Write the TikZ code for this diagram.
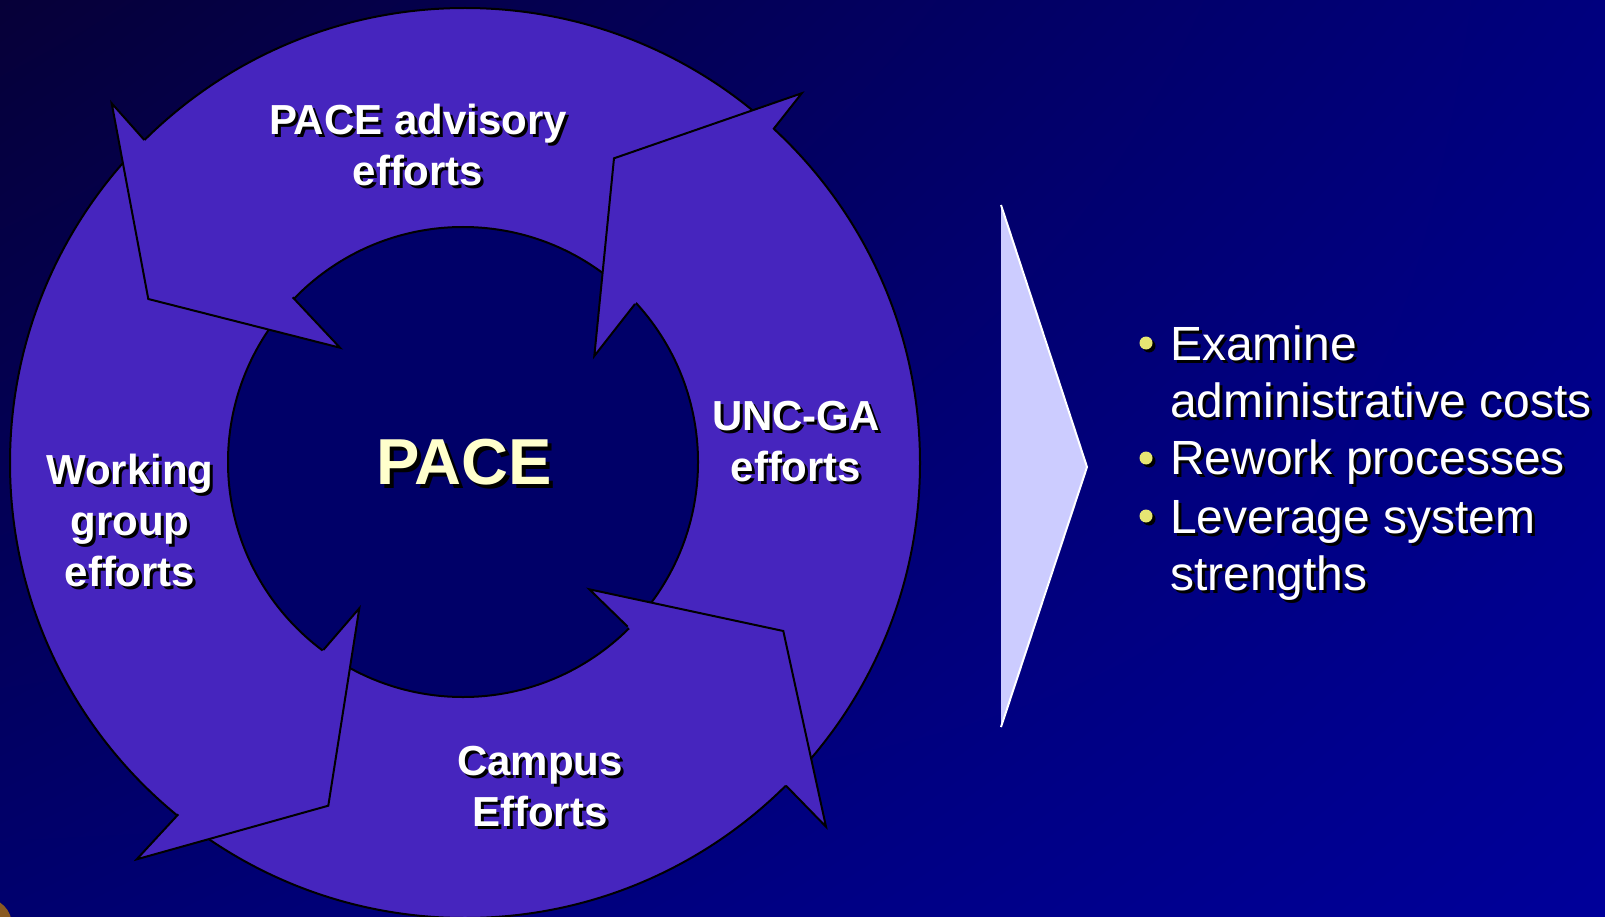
\documentclass[tikz,border=0pt]{standalone}
\usepackage{fontspec}
\setmainfont{Liberation Sans}
\usetikzlibrary{shadows,shadings}
\definecolor{ringc}{HTML}{4625BE}
\definecolor{coreC}{HTML}{000068}
\definecolor{paceY}{HTML}{FFFFCC}
\definecolor{chev}{HTML}{CCCCFF}
\definecolor{bulY}{HTML}{E6E673}
\definecolor{bgUL}{HTML}{060038}
\definecolor{bgUR}{HTML}{00007E}
\definecolor{bgLL}{HTML}{00006E}
\definecolor{bgLR}{HTML}{00009A}
\definecolor{blob}{HTML}{8A5A22}
\newcommand\shtext[2][3pt]{\leavevmode\rlap{\kern#1\raisebox{-#1}{\color{black}#2}}#2}
\tikzset{
  lbl/.style={font=\bfseries\fontsize{42}{51}\selectfont, text=white, align=center, inner sep=0pt, anchor=base},
  headline/.style={draw=black, line width=2pt, line join=miter},
  ringline/.style={draw=black, line width=2pt},
  bul/.style={circle, fill=bulY, minimum size=13pt, inner sep=0pt,
    drop shadow={shadow xshift=3pt, shadow yshift=-3pt, opacity=1, fill=black}},
  bultext/.style={font=\fontsize{48}{57}\selectfont, text=white, align=left, inner sep=0pt, anchor=base west},
}
\begin{document}
\begin{tikzpicture}[x=1pt, y=-1pt]
\useasboundingbox (0,0) rectangle (1605,917);
% background
\shade[upper left=bgUL, upper right=bgUR, lower left=bgLL, lower right=bgLR] (0,0) rectangle (1605,917);
\begin{scope}
  \clip (0,0) rectangle (1605,917);
  \fill[blob] (-15,925) circle[radius=27pt];
  % ring
  \fill[ringc, ringline] (465,463) circle[radius=455pt];
\end{scope}
\fill[coreC, ringline] (463,462) circle[radius=235pt];
% arrow heads
% top-right (UNC-GA arrow head)
\fill[ringc] (773.3,129.3) -- (801.7,93.3) -- (614,158.3) -- (594.3,356) -- (635,304) -- cycle;
\draw[headline] (773.3,129.3) -- (801.7,93.3) -- (614,158.3) -- (594.3,356) -- (635,304);
% top-left (PACE advisory arrow head)
\fill[ringc] (144.3,140) -- (111.7,103.3) -- (148.3,299) -- (340,347.7) -- (292.7,297.3) -- cycle;
\draw[headline] (144.3,140) -- (111.7,103.3) -- (148.3,299) -- (340,347.7) -- (292.7,297.3);
% bottom-left (Working group arrow head)
\fill[ringc] (178.3,814.3) -- (136.7,859.3) -- (328.3,805.7) -- (359.3,608.3) -- (323.3,650) -- cycle;
\draw[headline] (178.3,814.3) -- (136.7,859.3) -- (328.3,805.7) -- (359.3,608.3) -- (323.3,650);
% bottom-right (Campus arrow head)
\fill[ringc] (786,785.7) -- (826,826.7) -- (783.3,631) -- (589.3,589.3) -- (627.7,626.7) -- cycle;
\draw[headline] (786,785.7) -- (826,826.7) -- (783.3,631) -- (589.3,589.3) -- (627.7,626.7);
% labels (anchor=base is the baseline of the last line)
\node[lbl] (adv) at (418,186) {\shtext{PACE advisory}\\\shtext{efforts}};
\node[lbl] (unc) at (796,481) {\shtext{UNC-GA}\\\shtext{efforts}};
\node[lbl] (wrk) at (130,586) {\shtext{Working}\\\shtext{group}\\\shtext{efforts}};
\node[lbl] (cmp) at (540,826) {\shtext{Campus}\\\shtext{Efforts}};
\node[lbl, font=\bfseries\fontsize{65}{70}\selectfont, text=paceY] (pace) at (464,484) {\shtext[4pt]{PACE}};
% chevron
\fill[chev] (1001,205) -- (1087,467) -- (1001,727) -- cycle;
\draw[white, line width=2pt] (1001,205) -- (1087,467) -- (1001,727);
% bullets
\node[bul] (b1) at (1146,343) {};
\node[bul] (b2) at (1146,458) {};
\node[bul] (b3) at (1146,516) {};
\node[bultext] (t1) at (1170,417) {\shtext{Examine}\\\shtext{administrative costs}};
\node[bultext] (t2) at (1170,474) {\shtext{Rework processes}};
\node[bultext] (t3) at (1170,590) {\shtext{Leverage system}\\\shtext{strengths}};
\end{tikzpicture}
\end{document}
